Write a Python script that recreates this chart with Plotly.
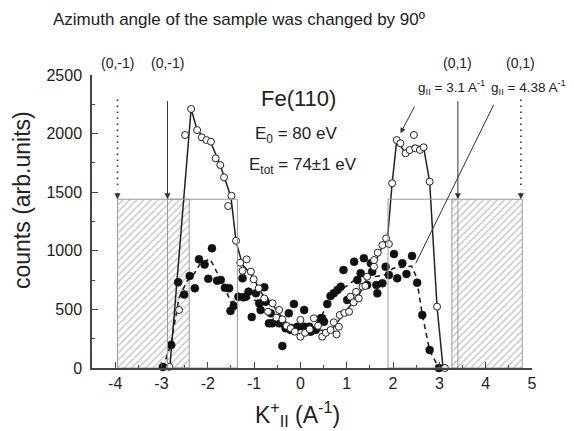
import plotly.graph_objects as go

# ---------------- data ----------------
open_x = [-2.83, -2.62, -2.49, -2.36, -2.23, -2.13, -2.03, -1.93, -1.83, -1.73,
          -1.65, -1.56, -1.49, -1.39, -1.30, -1.25, -1.16, -1.07, -1.01, -0.90,
          -0.78, -0.70, -0.60, -0.52, -0.46, -0.39, -0.30, -0.21, -0.12, 0.00,
          0.00, 0.10, 0.20, 0.29, 0.38, 0.47, 0.55, 0.65, 0.72, 0.78,
          0.83, 0.85, 0.95, 1.05, 1.08, 1.15, 1.20, 1.26, 1.34, 1.40,
          1.44, 1.59, 1.59, 1.67, 1.77, 1.85, 1.91, 1.98, 2.08, 2.16,
          2.27, 2.36, 2.45, 2.48, 2.58, 2.66, 2.79, 2.95, 3.12]
open_y = [10, 495, 1988, 2210, 2030, 1968, 1945, 1931, 1789, 1732,
          1627, 1382, 1470, 1086, 898, 830, 927, 822, 757, 680,
          594, 480, 552, 430, 495, 415, 360, 339, 310, 267,
          410, 300, 330, 424, 360, 267, 300, 324, 390, 287,
          352, 452, 470, 480, 608, 560, 650, 594, 694, 700,
          779, 864, 921, 984, 1049, 1106, 1058, 1576, 1945, 1917,
          1832, 1860, 1988, 1874, 1860, 1883, 1590, 523, 0]

fill_x = [-2.97, -2.79, -2.64, -2.51, -2.39, -2.28, -2.19, -2.07, -1.99, -1.91,
          -1.80, -1.72, -1.63, -1.54, -1.51, -1.44, -1.34, -1.25, -1.23, -1.18,
          -1.12, -1.05, -0.96, -0.89, -0.86, -0.78, -0.75, -0.68, -0.64, -0.61,
          -0.46, -0.39, -0.39, -0.32, -0.25, -0.21, -0.14, -0.06, 0.08, 0.08,
          0.19, 0.22, 0.33, 0.44, 0.47, 0.51, 0.58, 0.65, 0.72, 0.80,
          0.87, 0.93, 1.01, 1.08, 1.16, 1.23, 1.30, 1.37, 1.44, 1.52,
          1.55, 1.64, 1.66, 1.77, 1.84, 1.91, 2.02, 2.09, 2.20, 2.29,
          2.41, 2.52, 2.63, 2.79, 2.99]
fill_y = [8, 196, 732, 627, 785, 680, 927, 883, 762, 1021,
          745, 751, 684, 680, 487, 530, 608, 765, 603, 608,
          651, 435, 637, 552, 495, 688, 566, 381, 467, 381,
          381, 381, 188, 339, 467, 324, 546, 352, 495, 352,
          352, 310, 324, 424, 424, 395, 546, 614, 637, 666,
          694, 836, 580, 594, 907, 751, 808, 936, 708, 893,
          822, 708, 637, 723, 864, 793, 973, 765, 893, 802,
          956, 728, 452, 154, 0]

# smoothed guide curves drawn through the two data sets
solid_x = [-2.82, -2.36, -2.23, -2.03, -1.93, -1.73, -1.50, -1.39, -1.25, -1.07,
           -0.95, -0.78, -0.60, -0.46, -0.30, -0.10, 0.10, 0.30, 0.50, 0.70,
           0.85, 1.05, 1.26, 1.44, 1.59, 1.77, 1.88, 1.98, 2.08, 2.27,
           2.45, 2.66, 2.79, 2.95, 3.08]
solid_y = [0, 2210, 2030, 1945, 1920, 1730, 1460, 1080, 880, 800,
           720, 600, 540, 470, 380, 330, 340, 330, 320, 340,
           420, 520, 620, 760, 880, 1040, 1100, 1576, 1945, 1832,
           1900, 1883, 1590, 523, 0]

dash_x = [-2.97, -2.80, -2.62, -2.45, -2.30, -2.15, -1.95, -1.80, -1.65, -1.50,
          -1.35, -1.20, -1.00, -0.80, -0.60, -0.40, -0.20, 0.00, 0.20, 0.40,
          0.60, 0.80, 1.00, 1.20, 1.40, 1.60, 1.80, 2.00, 2.20, 2.40,
          2.50, 2.63, 2.79, 2.99]
dash_y = [0, 200, 600, 740, 800, 900, 930, 820, 700, 560,
          580, 620, 580, 560, 470, 400, 370, 360, 360, 400,
          560, 650, 700, 760, 800, 780, 790, 850, 860, 870,
          780, 460, 150, 0]

# regions: hatched (x0, x1) and outlined (x0, x1), common height
hatch_regions = [(-3.95, -2.40), (3.27, 4.79)]
box_regions = [(-2.87, -1.36), (1.89, 3.40)]
region_height = 1440

# reciprocal lattice markers
solid_arrows_x = [-2.87, 3.40]
dotted_arrows_x = [-3.95, 4.76]
arrow_labels = ["(0,-1)", "(0,-1)", "(0,1)", "(0,1)"]
arrow_label_x = [-3.95, -2.87, 3.40, 4.76]
arrow_top, arrow_bottom = 2290, region_height

x_ticks = [-4, -3, -2, -1, 0, 1, 2, 3, 4, 5]
x_ticktext = ["-4", "-3", "-2", "-1", "0", "1", "2", "3", "4", "5"]
y_ticks = [0, 500, 1000, 1500, 2000, 2500]

X_RANGE = [-4.5, 5]
Y_RANGE = [0, 2500]

FONT = "Liberation Sans, Arial, sans-serif"
INK = "#222222"
GRAY = "#9a9a9a"


def xp(v):  # data x -> paper x
    return (v - X_RANGE[0]) / (X_RANGE[1] - X_RANGE[0])


def yp(v):  # data y -> paper y
    return (v - Y_RANGE[0]) / (Y_RANGE[1] - Y_RANGE[0])


def paper_text(x, y, text, size, **kw):
    fig.add_annotation(x=x, y=y, xref="paper", yref="paper", text=text,
                       showarrow=False, xanchor=kw.pop("xanchor", "center"),
                       yanchor="middle",
                       font=dict(family=FONT, size=size, color=INK), **kw)


fig = go.Figure()

for x0, x1 in hatch_regions:
    fig.add_trace(go.Bar(
        x=[(x0 + x1) / 2], y=[region_height], width=[x1 - x0], base=0,
        marker=dict(color="white", line=dict(color=GRAY, width=1),
                    pattern=dict(shape="/", fgcolor="#808080", bgcolor="white",
                                 size=5, solidity=0.25)),
        showlegend=False, hoverinfo="skip"))

for x0, x1 in box_regions:
    fig.add_shape(type="rect", x0=x0, x1=x1, y0=0, y1=region_height,
                  line=dict(color=GRAY, width=1), layer="above")

fig.add_trace(go.Scatter(x=dash_x, y=dash_y, mode="lines",
                         line=dict(color=INK, width=1.6, dash="5px,4px"),
                         showlegend=False, cliponaxis=False))
fig.add_trace(go.Scatter(x=solid_x, y=solid_y, mode="lines",
                         line=dict(color=INK, width=1.5),
                         showlegend=False, cliponaxis=False))
fig.add_trace(go.Scatter(x=fill_x, y=fill_y, mode="markers",
                         marker=dict(symbol="circle", size=8, color="#111111",
                                     line=dict(color="#111111", width=0.5)),
                         showlegend=False, cliponaxis=False))
fig.add_trace(go.Scatter(x=open_x, y=open_y, mode="markers",
                         marker=dict(symbol="circle", size=7, color="white",
                                     line=dict(color="#222222", width=1)),
                         showlegend=False, cliponaxis=False))

# vertical arrows
for xa in solid_arrows_x:
    fig.add_annotation(x=xa, y=arrow_bottom, ax=xa, ay=arrow_top,
                       axref="x", ayref="y", xref="x", yref="y", text="",
                       showarrow=True, arrowhead=2, arrowsize=1.2,
                       arrowwidth=1, arrowcolor="#333333")
for xa in dotted_arrows_x:
    fig.add_shape(type="line", x0=xa, x1=xa, y0=arrow_top, y1=arrow_bottom + 80,
                  line=dict(color="#333333", width=1.6, dash="1.5px,4.5px"))
    fig.add_annotation(x=xa, y=arrow_bottom, ax=0, ay=-8, xref="x", yref="y",
                       text="", showarrow=True, arrowhead=2, arrowsize=1.2,
                       arrowwidth=1, arrowcolor="#333333")

for lab, xl in zip(arrow_labels, arrow_label_x):
    paper_text(xp(xl), yp(2602), lab, 14)

# g labels and pointers
paper_text((487 - 92) / 440, yp(2398), "g<sub>II</sub> = 3.1 A<sup>-1</sup>", 13.5,
           xanchor="right")
paper_text((489 - 92) / 440, yp(2398), "g<sub>II</sub> = 4.38 A<sup>-1</sup>", 13.5,
           xanchor="left")
fig.add_annotation(x=2.16, y=2002, ax=2.48, ay=2244, axref="x", ayref="y",
                   xref="x", yref="y", text="", showarrow=True, arrowhead=2,
                   arrowsize=1.1, arrowwidth=1, arrowcolor="#333333")
fig.add_shape(type="line", x0=4.17, y0=2244, x1=2.49, y1=893,
              line=dict(color="#333333", width=1))

# inner texts
paper_text(xp(-0.05), yp(2300), "Fe(110)", 22)
paper_text(xp(-0.1), yp(1990), "E<sub>0</sub> = 80 eV", 17)
paper_text(xp(0.05), yp(1720), "E<sub>tot</sub> = 74±1 eV", 17)

# title and axis titles (page pixel positions -> paper)
paper_text((239 - 92) / 440, (368 - 19) / 293,
           "Azimuth angle of the sample was changed by 90º", 17)
paper_text((297 - 92) / 440, (368 - 414) / 293,
           "K<sup>+</sup><sub>II</sub> (A<sup>-1</sup>)", 23)
paper_text((22 - 92) / 440, (368 - 200) / 293, "counts (arb.units)", 23,
           textangle=-90)

axis_common = dict(showgrid=False, zeroline=False, showline=True,
                   linecolor="#444444", linewidth=1.5, ticks="inside",
                   ticklen=6, tickwidth=1.2, tickcolor="#444444",
                   tickfont=dict(family=FONT, size=16, color=INK))
fig.update_xaxes(range=X_RANGE, tickvals=x_ticks, ticktext=x_ticktext,
                 minor=dict(ticks="inside", dtick=0.5, ticklen=3,
                            tickcolor="#444444"), **axis_common)
fig.update_yaxes(range=Y_RANGE, tickvals=y_ticks, ticklabelstandoff=5,
                 minor=dict(ticks="inside", dtick=250, ticklen=3,
                            tickcolor="#444444"), **axis_common)

# page has an 8px body margin, so the figure is 8px smaller than the window
fig.update_layout(width=566, height=423, barmode="overlay",
                  margin=dict(l=84, r=42, t=67, b=63),
                  plot_bgcolor="white", paper_bgcolor="white",
                  font=dict(family=FONT, color=INK))

fig.write_html("out.html")
